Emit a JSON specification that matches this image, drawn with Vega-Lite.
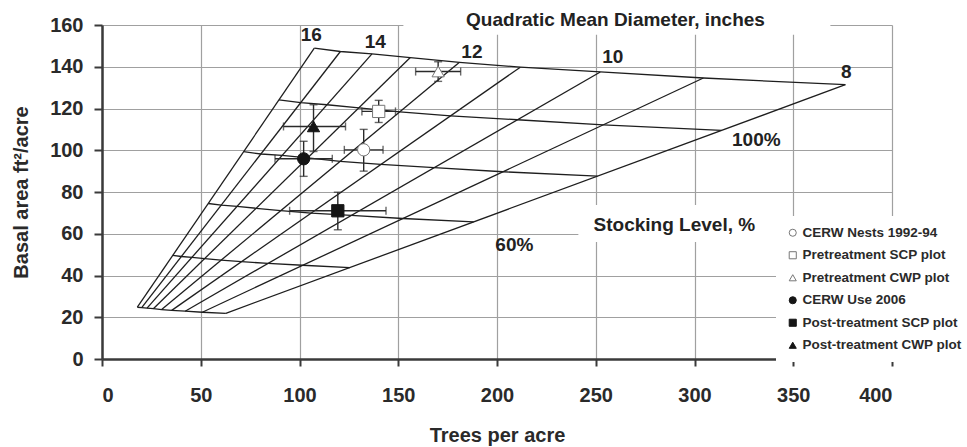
{
  "$schema": "https://vega.github.io/schema/vega-lite/v6.json",
  "width": 790,
  "height": 334,
  "autosize": "none",
  "padding": {"left": 102, "top": 25, "right": 75, "bottom": 88},
  "background": "white",
  "datasets": {
    "dlines": [
      {"d": 16, "n1": 17.9, "ba1": 24.8, "n2": 107.5, "ba2": 148.9},
      {"d": 15, "n1": 20.1, "ba1": 24.6, "n2": 120.7, "ba2": 147.3},
      {"d": 14, "n1": 22.8, "ba1": 24.4, "n2": 136.7, "ba2": 146.2},
      {"d": 13, "n1": 26.0, "ba1": 24.1, "n2": 156.1, "ba2": 144.4},
      {"d": 12, "n1": 30.2, "ba1": 23.7, "n2": 181.0, "ba2": 142.1},
      {"d": 11, "n1": 35.3, "ba1": 23.3, "n2": 211.8, "ba2": 139.8},
      {"d": 10, "n1": 42.1, "ba1": 22.9, "n2": 252.3, "ba2": 137.5},
      {"d": 9, "n1": 50.8, "ba1": 22.4, "n2": 304.5, "ba2": 134.6},
      {"d": 8, "n1": 62.7, "ba1": 21.9, "n2": 376.4, "ba2": 131.4}
    ],
    "slines": [
      {"s": 120, "d": 16, "n": 107.5, "ba": 148.9}, {"s": 120, "d": 15, "n": 120.7, "ba": 147.3}, {"s": 120, "d": 14, "n": 136.7, "ba": 146.2}, {"s": 120, "d": 13, "n": 156.1, "ba": 144.4}, {"s": 120, "d": 12, "n": 181.0, "ba": 142.1}, {"s": 120, "d": 11, "n": 211.8, "ba": 139.8}, {"s": 120, "d": 10, "n": 252.3, "ba": 137.5}, {"s": 120, "d": 9, "n": 304.5, "ba": 134.6}, {"s": 120, "d": 8, "n": 376.4, "ba": 131.4},
      {"s": 100, "d": 16, "n": 89.6, "ba": 124.1}, {"s": 100, "d": 15, "n": 100.6, "ba": 122.8}, {"s": 100, "d": 14, "n": 113.9, "ba": 121.8}, {"s": 100, "d": 13, "n": 130.1, "ba": 120.3}, {"s": 100, "d": 12, "n": 150.8, "ba": 118.4}, {"s": 100, "d": 11, "n": 176.5, "ba": 116.5}, {"s": 100, "d": 10, "n": 210.3, "ba": 114.6}, {"s": 100, "d": 9, "n": 253.8, "ba": 112.2}, {"s": 100, "d": 8, "n": 313.7, "ba": 109.5},
      {"s": 80, "d": 16, "n": 71.7, "ba": 99.3}, {"s": 80, "d": 15, "n": 80.5, "ba": 98.2}, {"s": 80, "d": 14, "n": 91.1, "ba": 97.5}, {"s": 80, "d": 13, "n": 104.1, "ba": 96.3}, {"s": 80, "d": 12, "n": 120.7, "ba": 94.7}, {"s": 80, "d": 11, "n": 141.2, "ba": 93.2}, {"s": 80, "d": 10, "n": 168.2, "ba": 91.7}, {"s": 80, "d": 9, "n": 203.0, "ba": 89.7}, {"s": 80, "d": 8, "n": 250.9, "ba": 87.6},
      {"s": 60, "d": 16, "n": 53.8, "ba": 74.5}, {"s": 60, "d": 15, "n": 60.4, "ba": 73.7}, {"s": 60, "d": 14, "n": 68.4, "ba": 73.1}, {"s": 60, "d": 13, "n": 78.1, "ba": 72.2}, {"s": 60, "d": 12, "n": 90.5, "ba": 71.1}, {"s": 60, "d": 11, "n": 105.9, "ba": 69.9}, {"s": 60, "d": 10, "n": 126.2, "ba": 68.8}, {"s": 60, "d": 9, "n": 152.3, "ba": 67.3}, {"s": 60, "d": 8, "n": 188.2, "ba": 65.7},
      {"s": 40, "d": 16, "n": 35.8, "ba": 49.6}, {"s": 40, "d": 15, "n": 40.2, "ba": 49.1}, {"s": 40, "d": 14, "n": 45.6, "ba": 48.7}, {"s": 40, "d": 13, "n": 52.0, "ba": 48.1}, {"s": 40, "d": 12, "n": 60.3, "ba": 47.4}, {"s": 40, "d": 11, "n": 70.6, "ba": 46.6}, {"s": 40, "d": 10, "n": 84.1, "ba": 45.8}, {"s": 40, "d": 9, "n": 101.5, "ba": 44.9}, {"s": 40, "d": 8, "n": 125.5, "ba": 43.8},
      {"s": 20, "d": 16, "n": 17.9, "ba": 24.8}, {"s": 20, "d": 15, "n": 20.1, "ba": 24.6}, {"s": 20, "d": 14, "n": 22.8, "ba": 24.4}, {"s": 20, "d": 13, "n": 26.0, "ba": 24.1}, {"s": 20, "d": 12, "n": 30.2, "ba": 23.7}, {"s": 20, "d": 11, "n": 35.3, "ba": 23.3}, {"s": 20, "d": 10, "n": 42.1, "ba": 22.9}, {"s": 20, "d": 9, "n": 50.8, "ba": 22.4}, {"s": 20, "d": 8, "n": 62.7, "ba": 21.9}
    ],
    "points": [
      {"series": "CERW Nests 1992-94", "n": 132.5, "ba": 100.2, "nlo": 122.7, "nhi": 142.3, "balo": 90.0, "bahi": 110.0},
      {"series": "Pretreatment SCP plot", "n": 140.1, "ba": 118.6, "nlo": 131.6, "nhi": 148.6, "balo": 113.3, "bahi": 123.9},
      {"series": "Pretreatment CWP plot", "n": 170.2, "ba": 137.7, "nlo": 158.8, "nhi": 181.6, "balo": 133.0, "bahi": 142.4},
      {"series": "CERW Use 2006", "n": 102.1, "ba": 95.9, "nlo": 87.6, "nhi": 116.6, "balo": 87.5, "bahi": 104.3},
      {"series": "Post-treatment SCP plot", "n": 119.4, "ba": 71.0, "nlo": 95.0, "nhi": 143.8, "balo": 61.9, "bahi": 79.9},
      {"series": "Post-treatment CWP plot", "n": 107.1, "ba": 111.4, "nlo": 91.9, "nhi": 123.3, "balo": 99.4, "bahi": 121.8}
    ],
    "labels": [
      {"label": "16", "n": 106.0, "ba": 155.1},
      {"label": "14", "n": 138.4, "ba": 151.7},
      {"label": "12", "n": 187.3, "ba": 146.9},
      {"label": "10", "n": 258.6, "ba": 144.5},
      {"label": "8", "n": 376.9, "ba": 137.4},
      {"label": "100%", "n": 331.3, "ba": 105.0},
      {"label": "60%", "n": 208.8, "ba": 54.5},
      {"label": "Quadratic Mean Diameter, inches", "n": 260.0, "ba": 162.6},
      {"label": "Stocking Level, %", "n": 289.8, "ba": 64.3}
    ],
    "masks": [
      {"n1": 152.6, "n2": 368.8, "ba1": 155.3, "ba2": 172},
      {"n1": 241.2, "n2": 342.0, "ba1": 56.1, "ba2": 73.8}
    ]
  },
  "layer": [
    {
      "data": {"name": "masks"},
      "mark": {"type": "rect", "fill": "white", "clip": false},
      "encoding": {
        "x": {"field": "n1", "type": "quantitative", "scale": {"domain": [0, 400], "nice": false}, "title": "Trees per acre",
              "axis": {"values": [0, 50, 100, 150, 200, 250, 300, 350, 400], "tickSize": 7, "labelPadding": 19, "titlePadding": 20}},
        "x2": {"field": "n2"},
        "y": {"field": "ba1", "type": "quantitative", "scale": {"domain": [0, 160], "nice": false}, "title": "Basal area ft²/acre",
              "axis": {"values": [0, 20, 40, 60, 80, 100, 120, 140, 160], "tickSize": 8, "labelPadding": 11, "titlePadding": 18}},
        "y2": {"field": "ba2"}
      }
    },
    {
      "data": {"name": "dlines"},
      "mark": {"type": "rule", "color": "#1e1e1e", "strokeWidth": 1.3},
      "encoding": {
        "x": {"field": "n1", "type": "quantitative", "title": "Trees per acre"},
        "x2": {"field": "n2"},
        "y": {"field": "ba1", "type": "quantitative", "title": "Basal area ft²/acre"},
        "y2": {"field": "ba2"}
      }
    },
    {
      "data": {"name": "slines"},
      "mark": {"type": "line", "color": "#1e1e1e", "strokeWidth": 1.3},
      "encoding": {
        "x": {"field": "n", "type": "quantitative", "title": "Trees per acre"},
        "y": {"field": "ba", "type": "quantitative", "title": "Basal area ft²/acre"},
        "detail": {"field": "s", "type": "nominal"},
        "order": {"field": "n", "type": "quantitative"}
      }
    },
    {
      "data": {"name": "points"},
      "mark": {"type": "rule", "color": "#2a2a2a", "strokeWidth": 1.4},
      "encoding": {
        "x": {"field": "nlo", "type": "quantitative", "title": "Trees per acre"},
        "x2": {"field": "nhi"},
        "y": {"field": "ba", "type": "quantitative", "title": "Basal area ft²/acre"}
      }
    },
    {
      "data": {"name": "points"},
      "mark": {"type": "rule", "color": "#2a2a2a", "strokeWidth": 1.4},
      "encoding": {
        "x": {"field": "n", "type": "quantitative", "title": "Trees per acre"},
        "y": {"field": "balo", "type": "quantitative", "title": "Basal area ft²/acre"},
        "y2": {"field": "bahi"}
      }
    },
    {
      "data": {"name": "points"},
      "mark": {"type": "tick", "orient": "vertical", "color": "#2a2a2a", "size": 8, "thickness": 1.4},
      "encoding": {
        "x": {"field": "nlo", "type": "quantitative", "title": "Trees per acre"},
        "y": {"field": "ba", "type": "quantitative", "title": "Basal area ft²/acre"}
      }
    },
    {
      "data": {"name": "points"},
      "mark": {"type": "tick", "orient": "vertical", "color": "#2a2a2a", "size": 8, "thickness": 1.4},
      "encoding": {
        "x": {"field": "nhi", "type": "quantitative", "title": "Trees per acre"},
        "y": {"field": "ba", "type": "quantitative", "title": "Basal area ft²/acre"}
      }
    },
    {
      "data": {"name": "points"},
      "mark": {"type": "tick", "orient": "horizontal", "color": "#2a2a2a", "size": 8, "thickness": 1.4},
      "encoding": {
        "x": {"field": "n", "type": "quantitative", "title": "Trees per acre"},
        "y": {"field": "balo", "type": "quantitative", "title": "Basal area ft²/acre"}
      }
    },
    {
      "data": {"name": "points"},
      "mark": {"type": "tick", "orient": "horizontal", "color": "#2a2a2a", "size": 8, "thickness": 1.4},
      "encoding": {
        "x": {"field": "n", "type": "quantitative", "title": "Trees per acre"},
        "y": {"field": "bahi", "type": "quantitative", "title": "Basal area ft²/acre"}
      }
    },
    {
      "data": {"name": "points"},
      "mark": {"type": "point", "filled": true, "size": 150, "strokeWidth": 1, "opacity": 1},
      "encoding": {
        "x": {"field": "n", "type": "quantitative", "title": "Trees per acre"},
        "y": {"field": "ba", "type": "quantitative", "title": "Basal area ft²/acre"},
        "shape": {
          "field": "series", "type": "nominal",
          "scale": {
            "domain": ["CERW Nests 1992-94", "Pretreatment SCP plot", "Pretreatment CWP plot", "CERW Use 2006", "Post-treatment SCP plot", "Post-treatment CWP plot"],
            "range": ["circle", "square", "triangle-up", "circle", "square", "triangle-up"]
          },
          "legend": {
            "title": null, "orient": "none", "legendX": 674, "legendY": 191,
            "fillColor": "white", "padding": 10, "symbolSize": 50, "symbolStrokeWidth": 1,
            "labelFont": "Liberation Sans", "labelFontWeight": "bold", "labelFontSize": 13.5, "labelColor": "#2a2a2a",
            "rowPadding": 7.5, "labelOffset": 3, "labelLimit": 300
          }
        },
        "fill": {
          "field": "series", "type": "nominal",
          "scale": {
            "domain": ["CERW Nests 1992-94", "Pretreatment SCP plot", "Pretreatment CWP plot", "CERW Use 2006", "Post-treatment SCP plot", "Post-treatment CWP plot"],
            "range": ["white", "white", "white", "#151515", "#151515", "#151515"]
          }
        },
        "stroke": {
          "field": "series", "type": "nominal",
          "scale": {
            "domain": ["CERW Nests 1992-94", "Pretreatment SCP plot", "Pretreatment CWP plot", "CERW Use 2006", "Post-treatment SCP plot", "Post-treatment CWP plot"],
            "range": ["#777777", "#777777", "#777777", "#151515", "#151515", "#151515"]
          }
        }
      }
    },
    {
      "data": {"name": "labels"},
      "mark": {"type": "text", "font": "Liberation Sans", "fontWeight": "bold", "fontSize": 19, "color": "#222222", "align": "center", "baseline": "middle", "clip": false},
      "encoding": {
        "x": {"field": "n", "type": "quantitative", "title": "Trees per acre"},
        "y": {"field": "ba", "type": "quantitative", "title": "Basal area ft²/acre"},
        "text": {"field": "label", "type": "nominal"}
      }
    }
  ],
  "config": {
    "view": {"stroke": null},
    "font": "Liberation Sans",
    "axis": {
      "grid": true, "gridColor": "#a0a0a0", "gridWidth": 1.2,
      "domainColor": "#3a3a3a", "domainWidth": 2.5,
      "tickColor": "#3a3a3a", "tickWidth": 2,
      "labelFont": "Liberation Sans", "labelFontWeight": "bold", "labelFontSize": 20, "labelColor": "#2a2a2a",
      "titleFont": "Liberation Sans", "titleFontWeight": "bold", "titleFontSize": 20, "titleColor": "#2a2a2a"
    }
  }
}
